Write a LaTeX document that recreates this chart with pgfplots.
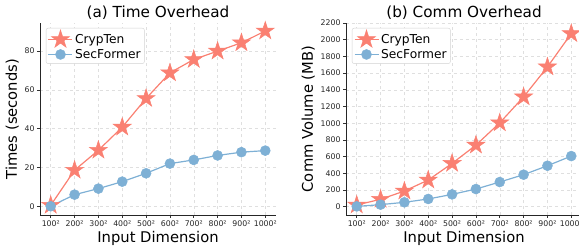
\documentclass[border=0pt]{standalone}
\usepackage{pgfplots}
\pgfplotsset{compat=1.18}
\usepackage{fontspec}
\setmainfont{DejaVu Sans}
\definecolor{cryp}{RGB}{250,128,114}
\definecolor{secf}{RGB}{126,176,213}
\pgfdeclareplotmark{fstar}{%
  \pgfpathmoveto{\pgfpointpolar{90}{\pgfplotmarksize}}%
  \pgfpathlineto{\pgfpointpolar{126}{0.382\pgfplotmarksize}}%
  \pgfpathlineto{\pgfpointpolar{162}{\pgfplotmarksize}}%
  \pgfpathlineto{\pgfpointpolar{198}{0.382\pgfplotmarksize}}%
  \pgfpathlineto{\pgfpointpolar{234}{\pgfplotmarksize}}%
  \pgfpathlineto{\pgfpointpolar{270}{0.382\pgfplotmarksize}}%
  \pgfpathlineto{\pgfpointpolar{306}{\pgfplotmarksize}}%
  \pgfpathlineto{\pgfpointpolar{342}{0.382\pgfplotmarksize}}%
  \pgfpathlineto{\pgfpointpolar{18}{\pgfplotmarksize}}%
  \pgfpathlineto{\pgfpointpolar{54}{0.382\pgfplotmarksize}}%
  \pgfpathclose
  \pgfusepathqfillstroke}
\pgfplotsset{
  myax/.style={
    scale only axis, width=236bp, height=192bp,
    anchor=south west,
    axis x line*=bottom, axis y line*=left,
    axis line style={-, line width=0.9bp, black!85},
    xmin=-0.45, xmax=9.45,
    xtick={0,...,9},
    xticklabels={100²,200²,300²,400²,500²,600²,700²,800²,900²,1000²},
    tick align=outside, major tick length=3bp,
    tick style={black!80, line width=0.6bp},
    tick label style={font=\fontsize{7.8}{9}\selectfont, text=black!85},
    yticklabel style={xshift=1bp},
    xticklabel style={yshift=1bp},
    /pgf/number format/assume math mode=true,
    /pgf/number format/1000 sep={},
    grid=major,
    major grid style={dashed, gray!25, line width=0.5bp},
    label style={font=\fontsize{14.8}{16}\selectfont},
    title style={font=\fontsize{15.3}{17}\selectfont, yshift=-6bp},
    xlabel={Input Dimension},
    xlabel style={yshift=2bp},
    ylabel style={yshift=-1bp},
    legend cell align=left,
    legend style={at={(0.025,0.974)}, anchor=north west, draw=gray!35,
      rounded corners=2pt, fill=white, font=\fontsize{12.3}{14}\selectfont,
      inner sep=1.8bp, row sep=0bp},
    legend image code/.code={\draw[mark repeat=2,mark phase=2] plot coordinates {(0bp,0bp) (12bp,0bp) (24bp,0bp)};},
  },
  cr/.style={color=cryp, line width=1.2bp, mark=fstar, mark size=9.5bp, mark options={fill=cryp, draw=cryp, line width=0.5bp}},
  sf/.style={color=secf, line width=1.2bp, mark=*, mark size=5bp, mark options={fill=secf, draw=secf, line width=0.5bp}},
}
\begin{document}
\begin{tikzpicture}
\useasboundingbox (0,0) rectangle (579bp,251bp);
\clip (0,0) rectangle (579bp,251bp);
\begin{axis}[myax, at={(40bp,36bp)},
  ymin=-4.5, ymax=94.5, ytick={0,20,40,60,80},
  title={(a) Time Overhead}, ylabel={Times (seconds)}]
\addplot[cr] coordinates {(0,0.5) (1,18.6) (2,28.9) (3,40.8) (4,55.6) (5,68.8) (6,75.7) (7,80.0) (8,84.3) (9,90.4)};
\addlegendentry{CrypTen}
\addplot[sf] coordinates {(0,0) (1,6.0) (2,9.1) (3,12.7) (4,17.0) (5,22.0) (6,23.9) (7,26.2) (8,27.9) (9,28.7)};
\addlegendentry{SecFormer}
\end{axis}
\begin{axis}[myax, at={(346bp,36bp)},
  ymin=-100, ymax=2200, ytick={0,200,...,2200},
  title={(b) Comm Overhead}, ylabel={Comm Volume (MB)}]
\addplot[cr] coordinates {(0,20) (1,88) (2,187) (3,319) (4,518) (5,737) (6,1004) (7,1315) (8,1674) (9,2073)};
\addlegendentry{CrypTen}
\addplot[sf] coordinates {(0,3) (1,24) (2,52) (3,92) (4,147) (5,211) (6,295) (7,383) (8,490) (9,606)};
\addlegendentry{SecFormer}
\end{axis}
\end{tikzpicture}
\end{document}
